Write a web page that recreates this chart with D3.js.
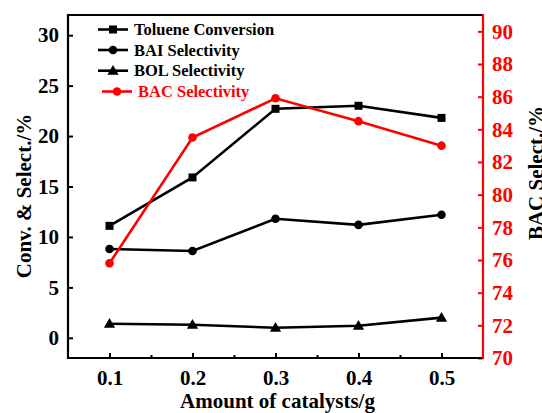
<!DOCTYPE html>
<html>
<head>
<meta charset="utf-8">
<script src="https://cdn.jsdelivr.net/npm/d3@7"></script>
<style>
  html, body { margin: 0; padding: 0; background: #fff; }
</style>
</head>
<body>
<svg id="chart" width="542" height="413"></svg>
<script>
// Catalyst loadings (g)
const amounts = [0.1, 0.2, 0.3, 0.4, 0.5];
// Left axis series (%)
const tolueneConversion = [11.1, 15.9, 22.7, 23.0, 21.8];
const baiSelectivity = [8.8, 8.6, 11.8, 11.2, 12.2];
const bolSelectivity = [1.4, 1.3, 1.0, 1.2, 2.0];
// Right axis series (%)
const bacSelectivity = [75.8, 83.5, 85.9, 84.5, 83.0];

const xTicks = [0.1, 0.2, 0.3, 0.4, 0.5];
const xMinorTicks = [0.15, 0.25, 0.35, 0.45];
const leftTicks = [0, 5, 10, 15, 20, 25, 30];
const rightTicks = [70, 72, 74, 76, 78, 80, 82, 84, 86, 88, 90];

const legendLabels = ["Toluene Conversion", "BAI Selectivity", "BOL Selectivity", "BAC Selectivity"];

const FONT = "'Liberation Serif', 'Times New Roman', serif";
const RED = "#ff0000";
const svg = d3.select("#chart")
  .style("font-family", FONT).style("font-weight", "bold");
const plot = { left: 68, right: 483, top: 15, bottom: 358 };

const x = d3.scaleLinear().domain([0.05, 0.55]).range([plot.left, plot.right]);
const yL = d3.scaleLinear().domain([-2, 32]).range([plot.bottom, plot.top]);
const yR = d3.scaleLinear().domain([70, 91]).range([plot.bottom, plot.top]);

// Axes: ticks point inward
const xAxis = d3.axisBottom(x).tickValues(xTicks).tickSize(-5).tickPadding(12)
  .tickFormat(d3.format(".1f"));
const xMinor = d3.axisBottom(x).tickValues(xMinorTicks).tickSize(-3).tickFormat("");
const yAxisL = d3.axisLeft(yL).tickValues(leftTicks).tickSize(-5).tickPadding(9);
const yAxisR = d3.axisRight(yR).tickValues(rightTicks).tickSize(-5).tickPadding(9);

function styleAxis(g, color) {
  g.attr("font-family", null).attr("font-size", null);
  g.select(".domain").remove();
  g.selectAll(".tick line").attr("stroke", color).attr("stroke-width", 2);
  g.selectAll(".tick text").attr("fill", color).style("font-size", "21px");
}

svg.append("g").attr("transform", `translate(0,${plot.bottom})`).call(xAxis).call(g => styleAxis(g, "#000"));
svg.append("g").attr("transform", `translate(0,${plot.bottom})`).call(xMinor).call(g => styleAxis(g, "#000"));
svg.append("g").attr("transform", `translate(${plot.left},0)`).call(yAxisL).call(g => styleAxis(g, "#000"));
svg.append("g").attr("transform", `translate(${plot.right},0)`).call(yAxisR).call(g => styleAxis(g, RED));

// Frame
svg.append("path")
  .attr("d", `M${plot.right},${plot.top}H${plot.left}V${plot.bottom}H${plot.right}`)
  .attr("fill", "none").attr("stroke", "#000").attr("stroke-width", 2.2);
svg.append("line")
  .attr("x1", plot.right).attr("x2", plot.right)
  .attr("y1", plot.top - 1).attr("y2", plot.bottom + 1)
  .attr("stroke", RED).attr("stroke-width", 2.2);

// Axis titles
svg.append("text")
  .attr("transform", "translate(31,196) rotate(-90)")
  .attr("text-anchor", "middle").style("font-size", "21px").attr("fill", "#000")
  .text("Conv. & Select./%");
svg.append("text")
  .attr("transform", "translate(543,173) rotate(-90)")
  .attr("text-anchor", "middle").style("font-size", "21px").attr("fill", "#000")
  .text("BAC Select./%");
svg.append("text")
  .attr("x", (plot.left + plot.right) / 2 + 2).attr("y", 408)
  .attr("text-anchor", "middle").style("font-size", "21px").attr("fill", "#000")
  .text("Amount of catalysts/g");

// Markers
const triangle = d3.symbol().type(d3.symbolTriangle).size(55);
function drawMarker(g, shape, cx, cy, color) {
  if (shape === "square") {
    g.append("rect").attr("x", cx - 4).attr("y", cy - 4).attr("width", 8).attr("height", 8).attr("fill", color);
  } else if (shape === "circle") {
    g.append("circle").attr("cx", cx).attr("cy", cy).attr("r", 4.3).attr("fill", color);
  } else {
    g.append("path").attr("d", triangle()).attr("transform", `translate(${cx},${cy + 0.8})`).attr("fill", color);
  }
}

const series = [
  { values: tolueneConversion, shape: "square", color: "#000", y: yL },
  { values: baiSelectivity, shape: "circle", color: "#000", y: yL },
  { values: bolSelectivity, shape: "triangle", color: "#000", y: yL },
  { values: bacSelectivity, shape: "circle", color: RED, y: yR }
];

series.forEach(s => {
  const g = svg.append("g");
  const line = d3.line().x((d, i) => x(amounts[i])).y(d => s.y(d));
  g.append("path").attr("d", line(s.values)).attr("fill", "none")
    .attr("stroke", s.color).attr("stroke-width", 2.6);
  s.values.forEach((v, i) => drawMarker(g, s.shape, x(amounts[i]), s.y(v), s.color));
});

// Legend
const legendRows = [29.5, 50, 70.7, 91.5];
series.forEach((s, i) => {
  const g = svg.append("g");
  const x0 = i === 3 ? 102 : 98;
  const cy = legendRows[i];
  g.append("line").attr("x1", x0).attr("x2", x0 + 30).attr("y1", cy).attr("y2", cy)
    .attr("stroke", s.color).attr("stroke-width", 2.6);
  drawMarker(g, s.shape, x0 + 15, cy, s.color);
  g.append("text").attr("x", x0 + 36).attr("y", cy).attr("dy", "0.35em")
    .style("font-size", "16.5px").attr("fill", s.color).text(legendLabels[i]);
});
</script>
</body>
</html>
